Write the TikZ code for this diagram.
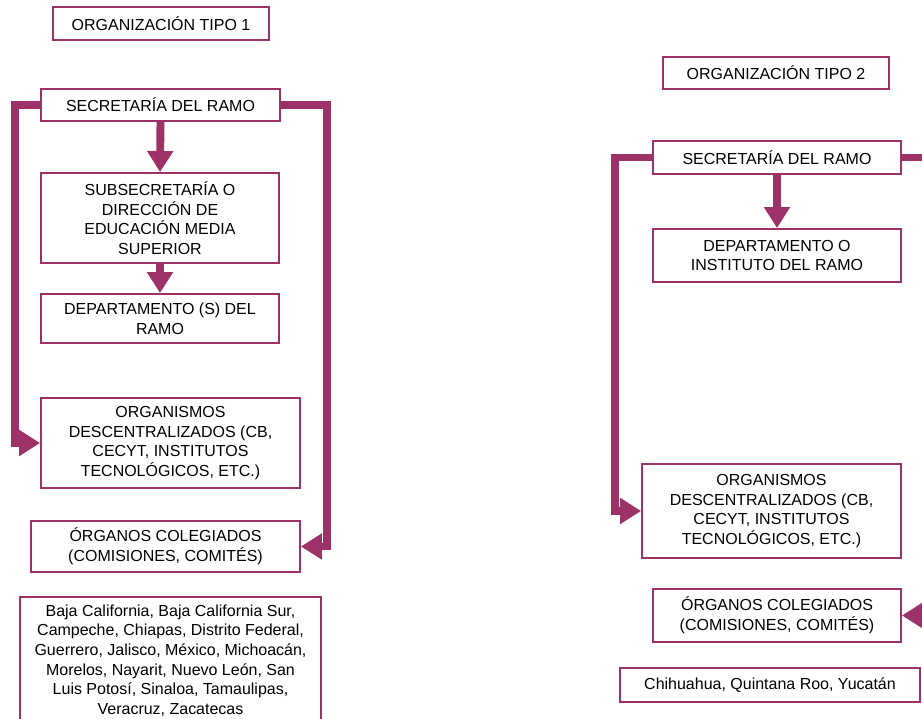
\documentclass[tikz,border=0pt]{standalone}
\usepackage{fontspec}
\setmainfont{Liberation Sans}
\usetikzlibrary{arrows.meta}
\definecolor{ramo}{HTML}{9C3267}
\tikzset{
  box/.style={draw=ramo, line width=1.1pt, fill=white, align=center,
    inner sep=0pt, text=black, font=\fontsize{9.1}{11.2}\selectfont},
  flow/.style={draw=ramo, line width=4.5pt,
    -{Triangle[length=0.42cm,width=0.5cm]}}
}
\begin{document}
\begin{tikzpicture}[x=0.02cm, y=-0.02cm]
  \useasboundingbox (0,0) rectangle (922,719);
  \clip (0,0) rectangle (922,719);

  % organizacion tipo 1
  \node[box, minimum width=4.32cm, minimum height=0.66cm] (tipo1) at (161,23.5) {ORGANIZACIÓN TIPO 1};
  \node[box, minimum width=4.78cm, minimum height=0.64cm] (sec1) at (160.5,105) {SECRETARÍA DEL RAMO};
  \node[box, minimum width=4.76cm, minimum height=1.8cm] (subsec1) at (160,218)
    {SUBSECRETARÍA O\\DIRECCIÓN DE\\EDUCACIÓN MEDIA\\SUPERIOR};
  \node[box, minimum width=4.76cm, minimum height=0.98cm] (depto1) at (160,318.5)
    {DEPARTAMENTO (S) DEL\\RAMO};
  \node[box, minimum width=5.18cm, minimum height=1.8cm] (org1) at (170.5,443)
    {ORGANISMOS\\DESCENTRALIZADOS (CB,\\CECYT, INSTITUTOS\\TECNOLÓGICOS, ETC.)};
  \node[box, minimum width=5.38cm, minimum height=1.02cm] (colg1) at (165.5,546.5)
    {ÓRGANOS COLEGIADOS\\(COMISIONES, COMITÉS)};
  \node[box, minimum width=6.02cm, minimum height=2.54cm] (edos1) at (170.5,660.5)
    {Baja California, Baja California Sur,\\Campeche, Chiapas, Distrito Federal,\\Guerrero, Jalisco, México, Michoacán,\\Morelos, Nayarit, Nuevo León, San\\Luis Potosí, Sinaloa, Tamaulipas,\\Veracruz, Zacatecas};

  \draw[flow] (sec1.south) -- (subsec1.north);
  \draw[flow] (subsec1.south) -- (depto1.north);
  \draw[flow] (sec1.west) -- ++(-25,0) |- (org1.west);
  \draw[flow] (sec1.east) -- ++(46,0) |- (colg1.east);

  % organizacion tipo 2
  \node[box, minimum width=4.52cm, minimum height=0.64cm] (tipo2) at (776,73) {ORGANIZACIÓN TIPO 2};
  \node[box, minimum width=4.96cm, minimum height=0.66cm] (sec2) at (777,157.5) {SECRETARÍA DEL RAMO};
  \node[box, minimum width=4.96cm, minimum height=1.06cm] (depto2) at (777,255.5)
    {DEPARTAMENTO O\\INSTITUTO DEL RAMO};
  \node[box, minimum width=5.18cm, minimum height=1.88cm] (org2) at (771.5,511)
    {ORGANISMOS\\DESCENTRALIZADOS (CB,\\CECYT, INSTITUTOS\\TECNOLÓGICOS, ETC.)};
  \node[box, minimum width=4.96cm, minimum height=1.06cm] (colg2) at (777,615.5)
    {ÓRGANOS COLEGIADOS\\(COMISIONES, COMITÉS)};
  \node[box, minimum width=6.0cm, minimum height=0.68cm] (edos2) at (770,685)
    {Chihuahua, Quintana Roo, Yucatán};

  \draw[flow] (sec2.south) -- (depto2.north);
  \draw[flow] (sec2.west) -- ++(-37,0) |- (org2.west);
  \draw[flow] (sec2.east) -- ++(40,0) |- (colg2.east);
\end{tikzpicture}
\end{document}
